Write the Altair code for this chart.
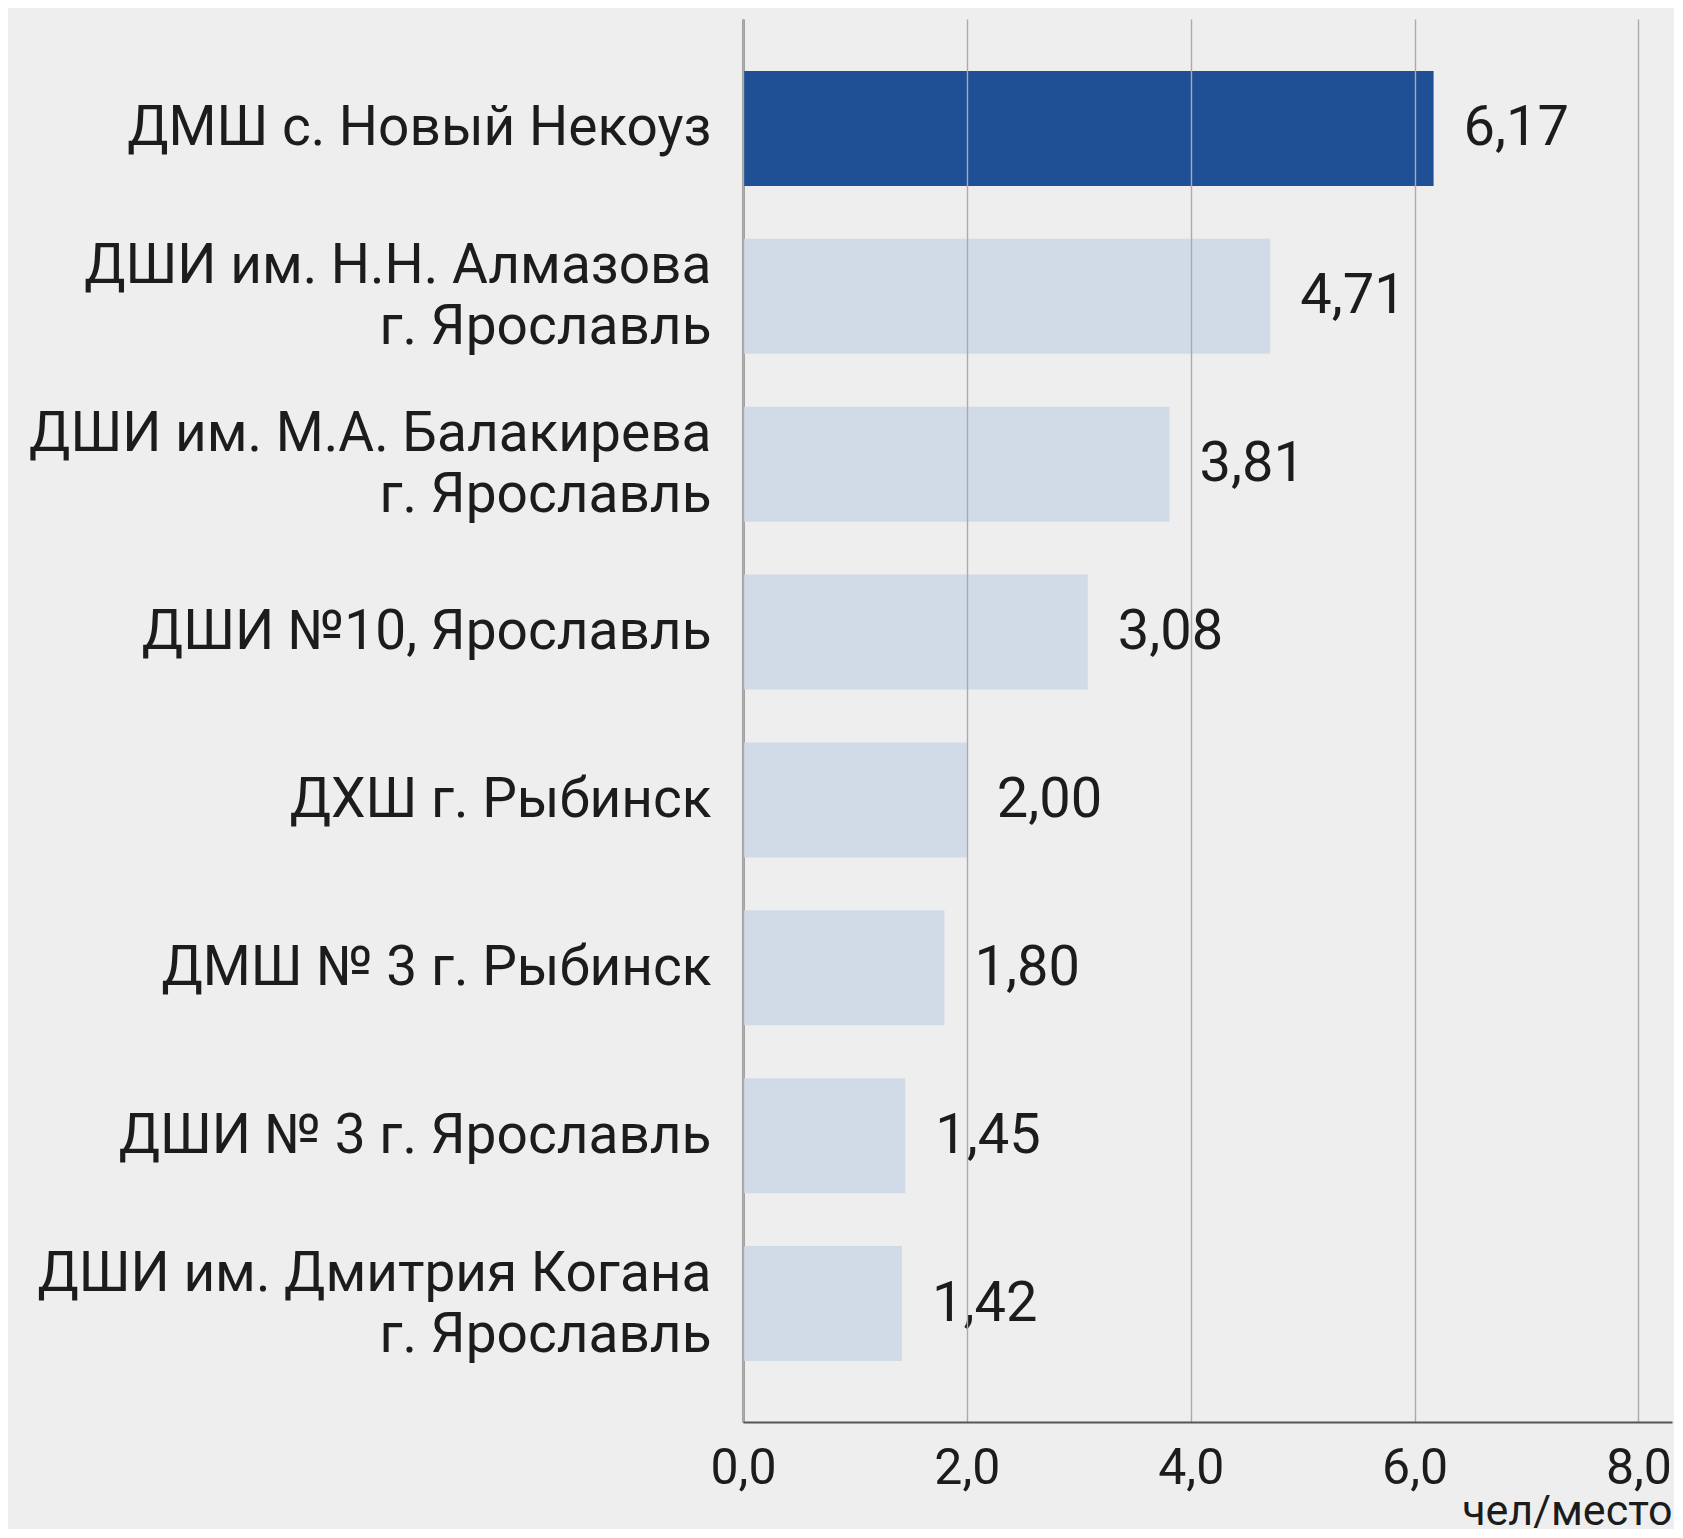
import altair as alt
import pandas as pd

schools = [
    "ДМШ с. Новый Некоуз",
    "ДШИ им. Н.Н. Алмазова\nг. Ярославль",
    "ДШИ им. М.А. Балакирева\nг. Ярославль",
    "ДШИ №10, Ярославль",
    "ДХШ г. Рыбинск",
    "ДМШ № 3 г. Рыбинск",
    "ДШИ № 3 г. Ярославль",
    "ДШИ им. Дмитрия Когана\nг. Ярославль",
]
values = [6.17, 4.71, 3.81, 3.08, 2.00, 1.80, 1.45, 1.42]
x_ticks = [0, 2, 4, 6, 8]
unit_label = "чел/место"

df = pd.DataFrame({"school": schools, "value": values})

FONT = "Roboto"
TEXT = "#1c1c1c"

base = alt.Chart(df).transform_calculate(
    label="replace(format(datum.value, '.2f'), '.', ',')"
)

y_enc = alt.Y(
    "school:N",
    sort=schools,
    scale=alt.Scale(paddingInner=0.315, paddingOuter=0.336, align=0.46),
    axis=alt.Axis(
        title=None,
        labelExpr="split(datum.label, '\\n')",
        labelFont=FONT,
        labelFontSize=55,
        labelColor=TEXT,
        labelLineHeight=61,
        labelPadding=32,
        labelLimit=900,
        labelAlign="right",
        labelBaseline="middle",
        labelOffset={
            "condition": {"test": "indexof(datum.label, '\\n') >= 0", "value": -30},
            "value": 0,
        },
        ticks=False,
        domainColor="#555555",
        domainWidth=2,
        grid=False,
    ),
)

x_enc = alt.X(
    "value:Q",
    scale=alt.Scale(domain=[0, 8.3], nice=False),
    axis=alt.Axis(
        title=unit_label,
        values=x_ticks,
        labelExpr="replace(format(datum.value, '.1f'), '.', ',')",
        labelFont=FONT,
        labelFontSize=50,
        labelColor=TEXT,
        labelPadding=21,
        labelFlush=False,
        ticks=False,
        tickSize=0,
        domainColor="#555555",
        domainWidth=2,
        grid=True,
        gridColor="#ABABAB",
        gridWidth=1.4,
        titleFont=FONT,
        titleFontSize=43,
        titleFontWeight="normal",
        titleColor=TEXT,
        titleAnchor="end",
        titleAlign="right",
        titlePadding=-3,
        zindex=1,
    ),
)

bars = base.mark_bar(cornerRadius=0).encode(
    x=x_enc,
    y=y_enc,
    color=alt.condition(
        alt.datum.school == schools[0], alt.value("#1F5096"), alt.value("#D0DBE7")
    ),
)

labels = base.mark_text(
    align="left", baseline="middle", dx=30, font=FONT, fontSize=56, color=TEXT
).encode(
    x="value:Q",
    y=alt.Y("school:N", sort=schools),
    text="label:N",
)

chart = (
    alt.layer(bars, labels)
    .properties(
        width=929,
        height=1403,
        background="#EEEEEE",
        padding={"left": 735, "top": 11, "right": 2, "bottom": 107},
        autosize=alt.AutoSizeParams(type="none"),
    )
    .configure_view(stroke=None)
)

chart.save("out.html", embed_options={"renderer": "svg", "actions": False})
